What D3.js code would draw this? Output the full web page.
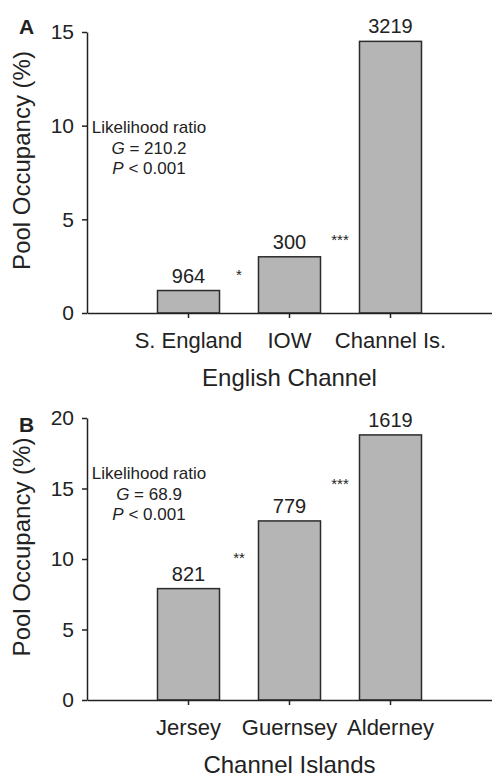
<!DOCTYPE html>
<html>
<head>
<meta charset="utf-8">
<script src="https://cdn.jsdelivr.net/npm/d3@7"></script>
<style>
  body { margin: 0; background: #fff; }
  svg text { font-family: "Liberation Sans", Arial, sans-serif; fill: #222; }
</style>
</head>
<body>
<div class="chart"></div>
<script>
// panel A: English Channel
var regionsA = ["S. England", "IOW", "Channel Is."];
var occupancyA = [1.2, 3.0, 14.5];
var samplesA = ["964", "300", "3219"];
var starsA = ["*", "***"];
var starLevelA = [2.2, 4.05];     // height of the stars, in % units
var statsA = ["Likelihood ratio", "210.2", "0.001"];
var ticksA = [0, 5, 10, 15];

// panel B: Channel Islands
var regionsB = ["Jersey", "Guernsey", "Alderney"];
var occupancyB = [7.9, 12.7, 18.8];
var samplesB = ["821", "779", "1619"];
var starsB = ["**", "***"];
var starLevelB = [10.3, 15.5];
var statsB = ["Likelihood ratio", "68.9", "0.001"];
var ticksB = [0, 5, 10, 15, 20];

var width = 492, height = 778;

var svg = d3.select(".chart").append("svg")
    .attr("width", width)
    .attr("height", height);

function drawPanel(opt){
    var g = svg.append("g");

    var y = d3.scaleLinear()
        .domain([0, opt.ymax])
        .range([opt.bottom, opt.top]);

    var x = d3.scaleBand()
        .domain(opt.regions)
        .range([87, 492])
        .paddingInner(0.386)
        .paddingOuter(0.698);

    // bars
    g.selectAll("rect.bar")
        .data(opt.values)
        .enter()
        .append("rect")
        .attr("class", "bar")
        .attr("x", function(d,i){ return x(opt.regions[i]); })
        .attr("y", function(d){ return y(d); })
        .attr("width", x.bandwidth())
        .attr("height", function(d){ return y(0) - y(d); })
        .attr("fill", "#b5b5b5")
        .attr("stroke", "#2b2b2b")
        .attr("stroke-width", 1.5);

    // sample sizes above bars
    g.selectAll("text.n")
        .data(opt.values)
        .enter()
        .append("text")
        .attr("class", "n")
        .attr("x", function(d,i){ return x(opt.regions[i]) + x.bandwidth()/2; })
        .attr("y", function(d){ return y(d) - 8; })
        .attr("text-anchor", "middle")
        .style("font-size", "20px")
        .text(function(d,i){ return opt.samples[i]; });

    // significance stars between neighbouring bars
    g.selectAll("text.star")
        .data(opt.stars)
        .enter()
        .append("text")
        .attr("class", "star")
        .attr("x", function(d,i){
            return (x(opt.regions[i]) + x.bandwidth() + x(opt.regions[i+1])) / 2;
        })
        .attr("y", function(d,i){ return y(opt.starLevel[i]) + 8; })
        .attr("text-anchor", "middle")
        .style("font-size", "15px")
        .text(function(d){ return d; });

    // y axis
    var yAxis = g.append("g")
        .attr("transform", "translate(87,0)")
        .call(d3.axisLeft(y).tickValues(opt.ticks).tickSize(5).tickSizeOuter(0).tickPadding(8));
    yAxis.selectAll("text").style("font-size", "21px");

    // x axis
    var xAxis = g.append("g")
        .attr("transform", "translate(0," + opt.bottom + ")")
        .call(d3.axisBottom(x).tickSize(5).tickSizeOuter(0).tickPadding(14));
    xAxis.selectAll("text").style("font-size", "22px");
    g.selectAll(".domain, .tick line").attr("stroke", "#222").attr("stroke-width", 1.5);

    // axis titles
    g.append("text")
        .attr("transform", "translate(30," + ((opt.top + opt.bottom)/2 - 12) + ") rotate(-90)")
        .attr("text-anchor", "middle")
        .style("font-size", "24px")
        .text("Pool Occupancy (%)");

    g.append("text")
        .attr("x", x(opt.regions[1]) + x.bandwidth()/2)
        .attr("y", opt.bottom + 73)
        .attr("text-anchor", "middle")
        .style("font-size", "24px")
        .text(opt.title);

    // panel letter
    g.append("text")
        .attr("x", 19)
        .attr("y", opt.letterY)
        .style("font-size", "21px")
        .style("font-weight", "bold")
        .text(opt.letter);

    // likelihood ratio box
    var s = g.append("text")
        .attr("text-anchor", "middle")
        .style("font-size", "17px");
    s.append("tspan")
        .attr("x", 149).attr("y", opt.statsY)
        .text(opt.stats[0]);
    var l2 = s.append("tspan").attr("x", 149).attr("dy", 20.5);
    l2.append("tspan").style("font-style", "italic").text("G");
    l2.append("tspan").text(" = " + opt.stats[1]);
    var l3 = s.append("tspan").attr("x", 149).attr("dy", 20.5);
    l3.append("tspan").style("font-style", "italic").text("P");
    l3.append("tspan").text(" < " + opt.stats[2]);
}

drawPanel({
    regions: regionsA, values: occupancyA, samples: samplesA,
    stars: starsA, starLevel: starLevelA,
    stats: statsA, ticks: ticksA, ymax: 15, top: 32, bottom: 313,
    title: "English Channel", letter: "A", letterY: 34, statsY: 133
});

drawPanel({
    regions: regionsB, values: occupancyB, samples: samplesB,
    stars: starsB, starLevel: starLevelB,
    stats: statsB, ticks: ticksB, ymax: 20, top: 418, bottom: 700,
    title: "Channel Islands", letter: "B", letterY: 432, statsY: 479
});
</script>
</body>
</html>
